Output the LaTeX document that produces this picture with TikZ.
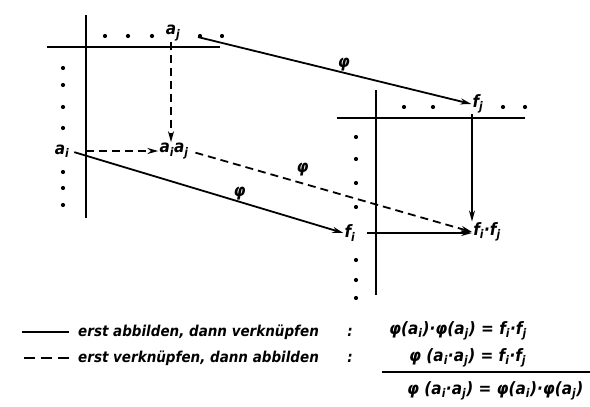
\documentclass[tikz,border=0pt]{standalone}
\usepackage{fontspec}
\setmainfont{DejaVu Sans Condensed}
\usetikzlibrary{arrows.meta,positioning}
\newcommand\idx[2]{#1\textsubscript{#2}}
\tikzset{
  arr/.style={-{Stealth[length=11pt,width=6pt]},line width=1.8pt},
  darr/.style={arr,dash pattern=on 8pt off 5pt},
  axis/.style={line width=1.8pt},
  lbl/.style={font=\bfseries\itshape\fontsize{17}{19}\selectfont,inner sep=1pt},
  leg/.style={font=\bfseries\itshape\fontsize{15}{17}\selectfont,inner sep=1pt},
  pt/.style={circle,fill,inner sep=0pt,minimum size=4.2pt},
}
\begin{document}
\begin{tikzpicture}[x=1pt,y=-1pt]
\useasboundingbox (0,0) rectangle (590,407);

% left scheme
\draw[axis] (86,15) -- (86,218);
\draw[axis] (47,47) -- (220,47);
\foreach \x in {105,128,152,200,222} \node[pt] at (\x,36) {};
\foreach \y in {68,85,107,128,172,188,205} \node[pt] at (63,\y) {};
\node[lbl] (aj) at (173,33) {\idx{a}{j}};
\node[lbl] (ai) at (62,151) {\idx{a}{i}};
\node[lbl] (aiaj) at (174,151) {\idx{a}{i}\idx{a}{j}};

% right scheme
\draw[axis] (376,90) -- (376,295);
\draw[axis] (337,118) -- (525,118);
\foreach \x in {404,433,503,525} \node[pt] at (\x,107) {};
\foreach \y in {137,159,183,207,260,280,298} \node[pt] at (356,\y) {};
\node[lbl] (fj) at (478,104) {\idx{f}{j}};
\node[lbl] (fi) at (350,233) {\idx{f}{i}};
\node[lbl] (fifj) at (487,232) {\idx{f}{i}·\idx{f}{j}};

% arrows
\draw[darr] ([xshift=-2pt]aj.south) -- ([xshift=-2pt]aj.south |- aiaj.north);
\draw[darr,shorten <=16pt] (ai.east) -- (aiaj.west |- ai.east);
\draw[arr,shorten <=17pt] (aj.east) -- node[lbl,above,pos=0.56] {φ} (fj.west);
\draw[arr,shorten <=4pt] (ai.east) -- node[lbl,above,pos=0.62] {φ} (fi.west);
\draw[darr,shorten <=6pt] (aiaj.east) -- node[lbl,above=5pt,pos=0.4] {φ} (fifj.west);
\draw[arr] ([xshift=-6pt]fj.south) -- ([xshift=-6pt]fj.south |- fifj.north);
\draw[arr,shorten <=10pt] (fi.east) -- (fifj.west |- fi.east);

% legend
\node[leg,anchor=west] (leg1) at (77,332) {erst abbilden, dann verknüpfen};
\node[leg,anchor=west] (leg2) at (77,358) {erst verknüpfen, dann abbilden};
\draw[axis] ([xshift=-8pt]leg1.west) -- ++(-47,0);
\draw[axis,dash pattern=on 11pt off 6pt] ([xshift=-8pt]leg2.west) -- ++(-47,0);
\node[leg] (c1) at (350,332) {:};
\node[leg] (c2) at (350,358) {:};
\node[lbl,anchor=west] (eq1) at (388,331) {φ(\idx{a}{i})·φ(\idx{a}{j}) = \idx{f}{i}·\idx{f}{j}};
\node[lbl,anchor=west] (eq2) at (408,358) {φ (\idx{a}{i}·\idx{a}{j}) = \idx{f}{i}·\idx{f}{j}};
\draw[axis] (382,372) -- (590,372);
\node[lbl,anchor=west] (eq3) at (406,391) {φ (\idx{a}{i}·\idx{a}{j})  = φ(\idx{a}{i})·φ(\idx{a}{j})};
\end{tikzpicture}
\end{document}
